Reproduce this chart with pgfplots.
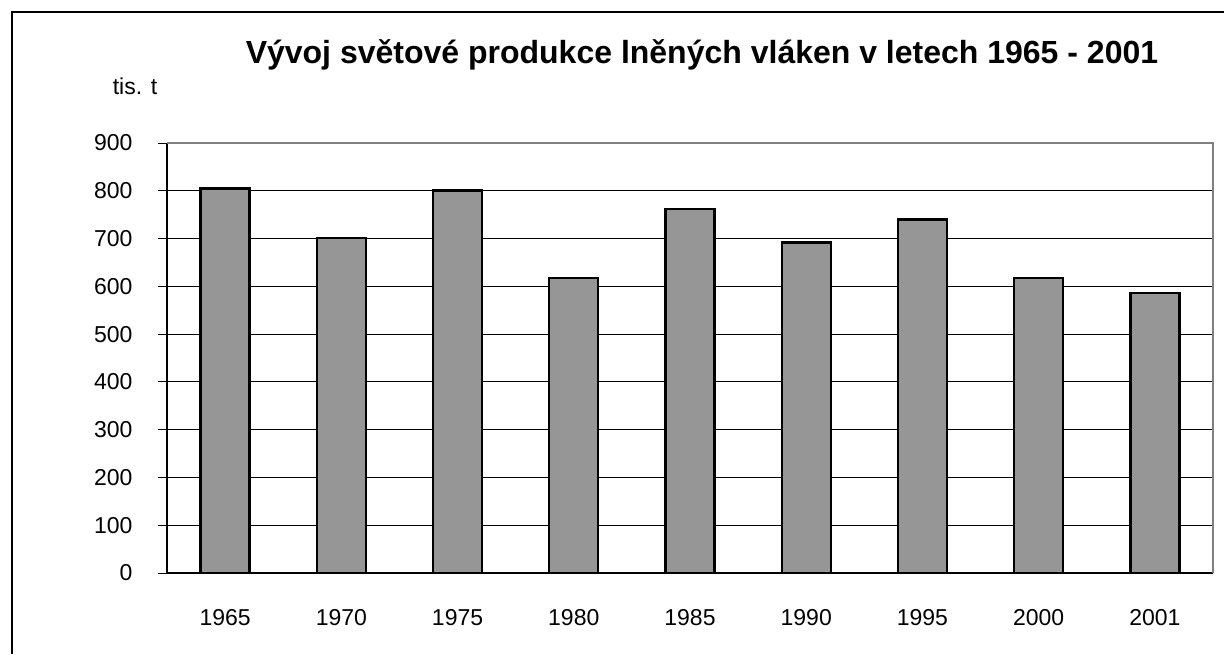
\documentclass[border=0pt]{standalone}
\usepackage{fontspec}
\setmainfont{Liberation Sans}
\usepackage{pgfplots}
\pgfplotsset{compat=1.18}
\definecolor{barfill}{RGB}{150,150,150}
\definecolor{borderg}{RGB}{128,128,128}
\begin{document}
\begin{tikzpicture}
\useasboundingbox (0,0) rectangle (612pt,327pt);
\fill[white] (0,0) rectangle (612pt,327pt);
\draw[black, line width=0.8pt] (6pt,0pt) -- (6pt,321pt) -- (613pt,321pt);
\node[font=\fontsize{16}{19}\selectfont\bfseries, anchor=base] at (351pt,295pt) {Vývoj světové produkce lněných vláken v letech 1965 - 2001};
\node[font=\fontsize{11.5}{13}\selectfont, anchor=center] at (67.5pt,284pt) {tis. t};
\begin{axis}[
  at={(83.5pt,40.5pt)}, anchor=south west,
  scale only axis, width=523pt, height=215pt,
  xmin=-0.5, xmax=8.5, ymin=0, ymax=900,
  ytick={0,100,...,900},
  xtick={0,...,8},
  xticklabels={1965,1970,1975,1980,1985,1990,1995,2000,2001},
  extra x ticks={-0.5,0.5,...,8.5},
  extra x tick labels={},
  extra x tick style={major tick length=4.5pt, tick style={black, line width=0.5pt}, grid=none},
  major tick length=4.5pt,
  x tick style={draw=none},
  y tick style={black, line width=0.5pt},
  tick align=outside,
  axis x line*=bottom, axis y line*=left,
  axis line style={black, line width=0.6pt, -},
  ymajorgrids, major grid style={black, line width=0.5pt},
  ticklabel style={font=\fontsize{11.5}{13}\selectfont},
  /pgf/number format/assume math mode=true,
  xticklabel style={anchor=center, yshift=-18pt},
  yticklabel style={anchor=east, xshift=-9.2pt},
  ybar, bar width=24.5pt,
  clip=false,
]
\addplot[fill=barfill, draw=black, line width=1.2pt] coordinates {
(0,805) (1,701) (2,801) (3,618) (4,762) (5,692) (6,740) (7,618) (8,586)};
\draw[borderg, line width=0.6pt] (rel axis cs:0,1) -- (rel axis cs:1,1) -- (rel axis cs:1,0);
\end{axis}
\end{tikzpicture}
\end{document}
